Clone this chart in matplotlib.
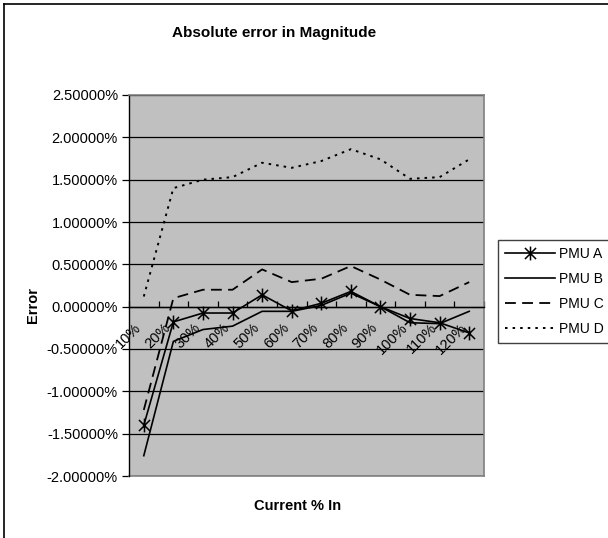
import numpy as np
import matplotlib
matplotlib.use("Agg")
import matplotlib.pyplot as plt
from matplotlib.path import Path
from matplotlib.lines import Line2D
from matplotlib.ticker import FuncFormatter, MultipleLocator

plt.rcParams['font.family'] = ['Liberation Sans', 'DejaVu Sans']

categories = ['10%', '20%', '30%', '40%', '50%', '60%', '70%', '80%', '90%', '100%', '110%', '120%']

# error in %
pmu_a = [-1.40, -0.18, -0.075, -0.075, 0.14, -0.05, 0.04, 0.18, 0.00, -0.14, -0.19, -0.31]
pmu_b = [-1.76, -0.41, -0.27, -0.23, -0.055, -0.055, 0.015, 0.16, 0.00, -0.19, -0.20, -0.055]
pmu_c = [-1.22, 0.10, 0.20, 0.20, 0.44, 0.29, 0.33, 0.48, 0.32, 0.14, 0.125, 0.29]
pmu_d = [0.12, 1.40, 1.50, 1.53, 1.70, 1.64, 1.72, 1.86, 1.74, 1.51, 1.53, 1.74]

W, H = 608, 538
fig = plt.figure(figsize=(W / 100, H / 100), dpi=100)

# outer chart border (only top and left visible)
fig.add_artist(Line2D([4 / W, 1], [1 - 4 / H, 1 - 4 / H], color='black', lw=1.2))
fig.add_artist(Line2D([4 / W, 4 / W], [1 - 4 / H, 0], color='black', lw=1.2))

ax = fig.add_axes([129 / W, 1 - 476 / H, 355 / W, 381 / H])
ax.set_facecolor('#c0c0c0')

x = np.arange(len(categories))

star = Path([(-1, -1), (1, 1), (-1, 1), (1, -1), (0, -1.25), (0, 1.25)],
            [Path.MOVETO, Path.LINETO, Path.MOVETO, Path.LINETO, Path.MOVETO, Path.LINETO])

ax.plot(x, pmu_a, color='black', lw=1.2, marker=star, markersize=10,
        markerfacecolor='none', markeredgecolor='black', markeredgewidth=1.1, label='PMU A')
ax.plot(x, pmu_b, color='black', lw=1.2, label='PMU B')
ax.plot(x, pmu_c, color='black', lw=1.3, dashes=(6, 3.5), label='PMU C')
ax.plot(x, pmu_d, color='black', lw=1.4, dashes=(1.3, 2.6), label='PMU D')

ax.set_xlim(-0.5, len(categories) - 0.5)
ax.set_ylim(-2.0, 2.5)
ax.yaxis.set_major_locator(MultipleLocator(0.5))
ax.yaxis.set_major_formatter(FuncFormatter(lambda v, p: '%.5f%%' % v))
ax.grid(axis='y', color='black', lw=0.9)
ax.set_axisbelow(True)

# x axis crossing at zero, ticks at category boundaries
ax.spines['bottom'].set_position(('data', 0))
ax.set_xticks(np.arange(len(categories) + 1) - 0.5)
ax.set_xticklabels([])
ax.set_xticks(x, minor=True)
ax.set_xticklabels(categories, minor=True, rotation=45, ha='right', fontsize=10.5)
ax.tick_params(axis='x', which='major', direction='in', length=4, width=0.9, colors='black')
ax.tick_params(axis='x', which='minor', length=0, pad=10)
ax.tick_params(axis='y', direction='out', length=5, width=0.9, labelsize=10.5, pad=3)

for side in ['top', 'right']:
    ax.spines[side].set_color('#808080')
    ax.spines[side].set_linewidth(1.2)
ax.spines['left'].set_color('black')
ax.spines['left'].set_linewidth(1.0)
ax.spines['bottom'].set_color('black')
ax.spines['bottom'].set_linewidth(1.0)
# bottom border of plot area
ax.add_artist(Line2D([0, 1], [0, 0], transform=ax.transAxes, color='#808080', lw=1.2, clip_on=False))

fig.text(274 / W, 1 - 33 / H, 'Absolute error in Magnitude',
         ha='center', va='center', fontsize=11, fontweight='bold')
fig.text(298 / W, 1 - 506 / H, 'Current % In', ha='center', va='center', fontsize=10.5, fontweight='bold')
fig.text(33 / W, 1 - 305 / H, 'Error', ha='center', va='center', rotation=90, fontsize=10.5, fontweight='bold')

leg = fig.legend(loc='upper left', bbox_to_anchor=(498 / W, 1 - 240 / H), frameon=True,
                 fancybox=False, edgecolor='#404040', framealpha=1, fontsize=10,
                 handlelength=3.6, handletextpad=0.3, labelspacing=0.8, borderpad=0.5,
                 borderaxespad=0)
leg.get_frame().set_linewidth(1.0)

fig.savefig('out.png', dpi=100)
